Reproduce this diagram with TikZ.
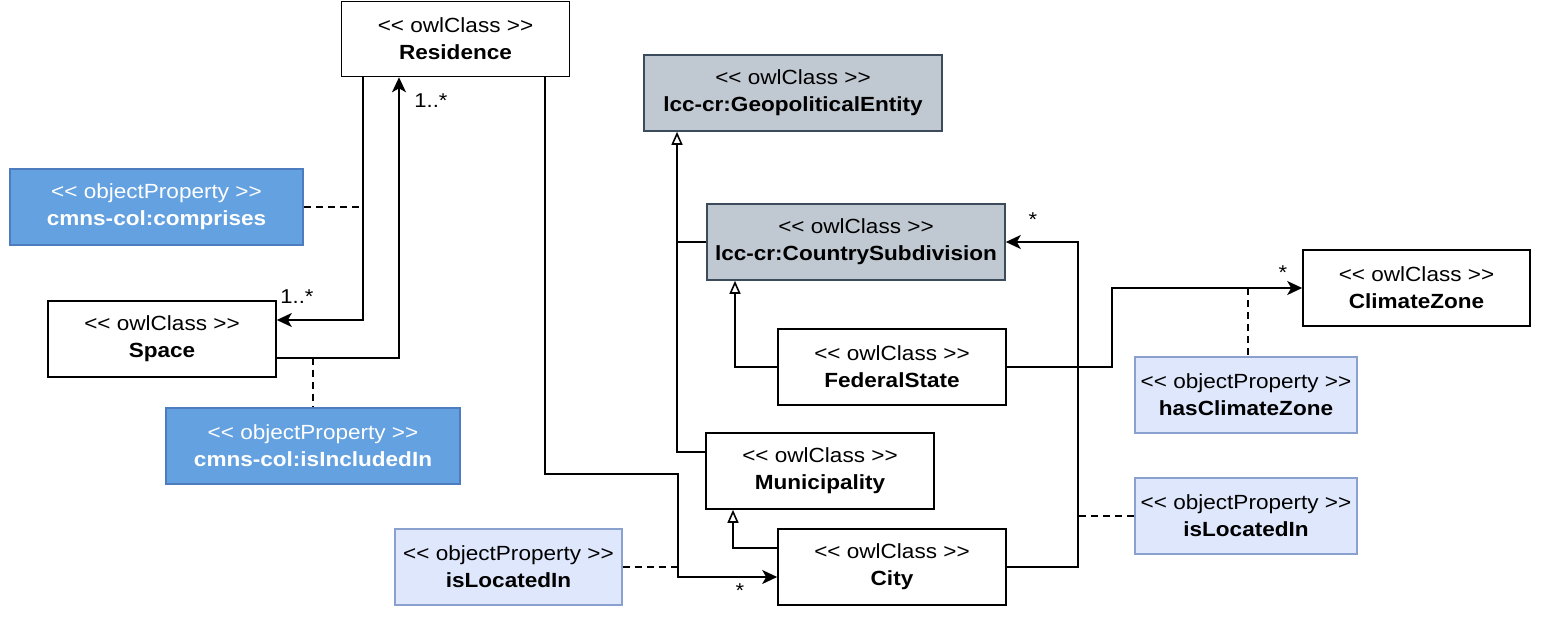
\documentclass[tikz,border=0pt]{standalone}
\usepackage{fontspec}
\setmainfont{Liberation Sans}[FakeStretch=1.1]
\usetikzlibrary{arrows.meta}
\definecolor{geofill}{HTML}{C0C8D2}
\definecolor{geoline}{HTML}{3B4B5C}
\definecolor{darkfill}{HTML}{64A1E0}
\definecolor{darkline}{HTML}{4D7DBE}
\definecolor{lightfill}{HTML}{DEE7FB}
\definecolor{lightline}{HTML}{8AA1CF}
\newcommand{\stcls}{<{}< owlClass >{}>}
\newcommand{\stprop}{<{}< objectProperty >{}>}
\tikzset{
  box/.style={draw, line width=1.6pt, align=center, inner sep=0pt,
    font=\fontsize{20.5}{27}\selectfont},
  cls/.style={box, fill=white, draw=black},
  geo/.style={box, fill=geofill, draw=geoline},
  darkprop/.style={box, fill=darkfill, draw=darkline, text=white},
  lightprop/.style={box, fill=lightfill, draw=lightline},
  conn/.style={line width=1.8pt},
  arr/.style={conn, -{Stealth[length=15pt,width=14pt,inset=4pt]}},
  gen/.style={conn, -{Triangle[open,length=13pt,width=11pt,line width=1.6pt]}},
  dsh/.style={line width=1.7pt, dash pattern=on 7pt off 5pt},
  mult/.style={font=\fontsize{20}{24}\selectfont, inner sep=0pt}
}
\begin{document}
\begin{tikzpicture}[x=1pt,y=-1pt]
\useasboundingbox (0,0) rectangle (1560,621);
% nodes
\node[cls, minimum width=228pt, minimum height=75pt] (res) at (455.5,39) {\stcls\\\textbf{Residence}};
\node[geo, minimum width=298pt, minimum height=76pt] (geoent) at (793,93) {\stcls\\\textbf{lcc-cr:GeopoliticalEntity}};
\node[darkprop, minimum width=293pt, minimum height=76pt] (comp) at (156.5,207) {\stprop\\\textbf{cmns-col:comprises}};
\node[geo, minimum width=298pt, minimum height=76pt] (csub) at (856,242) {\stcls\\\textbf{lcc-cr:CountrySubdivision}};
\node[cls, minimum width=227pt, minimum height=76pt] (cz) at (1416.5,288) {\stcls\\\textbf{ClimateZone}};
\node[cls, minimum width=228pt, minimum height=76pt] (space) at (162,339) {\stcls\\\textbf{Space}};
\node[cls, minimum width=228pt, minimum height=76pt] (fed) at (892,367) {\stcls\\\textbf{FederalState}};
\node[lightprop, minimum width=222pt, minimum height=76pt] (hcz) at (1246,395) {\stprop\\\textbf{hasClimateZone}};
\node[darkprop, minimum width=294pt, minimum height=76pt] (incl) at (313,446) {\stprop\\\textbf{cmns-col:isIncludedIn}};
\node[cls, minimum width=228pt, minimum height=76pt] (mun) at (820,471) {\stcls\\\textbf{Municipality}};
\node[lightprop, minimum width=222pt, minimum height=76pt] (locR) at (1246,516) {\stprop\\\textbf{isLocatedIn}};
\node[lightprop, minimum width=227pt, minimum height=76pt] (locL) at (508.5,567) {\stprop\\\textbf{isLocatedIn}};
\node[cls, minimum width=228pt, minimum height=76pt] (city) at (892,567) {\stcls\\\textbf{City}};
% junction coordinates
\coordinate (j1) at (363,320);
\coordinate (j2) at (399,358);
\coordinate (j4) at (545,474);
\coordinate (j5) at (678,474);
\coordinate (j6) at (678,577);
\coordinate (g1) at (677,452);
\coordinate (g2) at (735,367);
\coordinate (g3) at (733,548);
\coordinate (k1) at (1112,288);
\coordinate (k2) at (1248,288);
\coordinate (k3) at (1078,242);
% Residence - Space
\draw[arr] (res.south -| j1) -- (j1) -- (j1 -| space.east);
\draw[arr] (j2 -| space.east) -- (j2) -- (j2 |- res.south);
\draw[dsh] (comp.east) -- (comp.east -| j1);
\draw[dsh] (j2 -| incl.north) -- (incl.north);
% Residence - City
\draw[arr] (res.south -| j4) -- (j4) -- (j5) -- (j6) -- (j6 -| city.west);
\draw[dsh] (locL.east) -- (locL.east -| j6);
% generalizations
\draw[gen] (g1 -| mun.west) -- (g1) -- (g1 |- geoent.south);
\draw[conn] (csub.west) -- (csub.west -| g1);
\draw[gen] (fed.west) -- (g2) -- (g2 |- csub.south);
\draw[gen] (g3 -| city.west) -- (g3) -- (g3 |- mun.south);
% FederalState - ClimateZone
\draw[arr] (fed.east) -- (fed.east -| k1) -- (k1) -- (k1 -| cz.west);
\draw[dsh] (k2) -- (k2 |- hcz.north);
% City - CountrySubdivision
\draw[arr] (city.east) -- (city.east -| k3) -- (k3) -- (csub.east);
\draw[dsh] (locR.west) -- (locR.west -| k3);
% multiplicities
\node[mult] (m1) at (297,297) {1..*};
\node[mult] (m2) at (431,101) {1..*};
\node[mult] (m3) at (1033,220) {*};
\node[mult] (m4) at (1283,273) {*};
\node[mult] (m5) at (740,591) {*};
\end{tikzpicture}
\end{document}
